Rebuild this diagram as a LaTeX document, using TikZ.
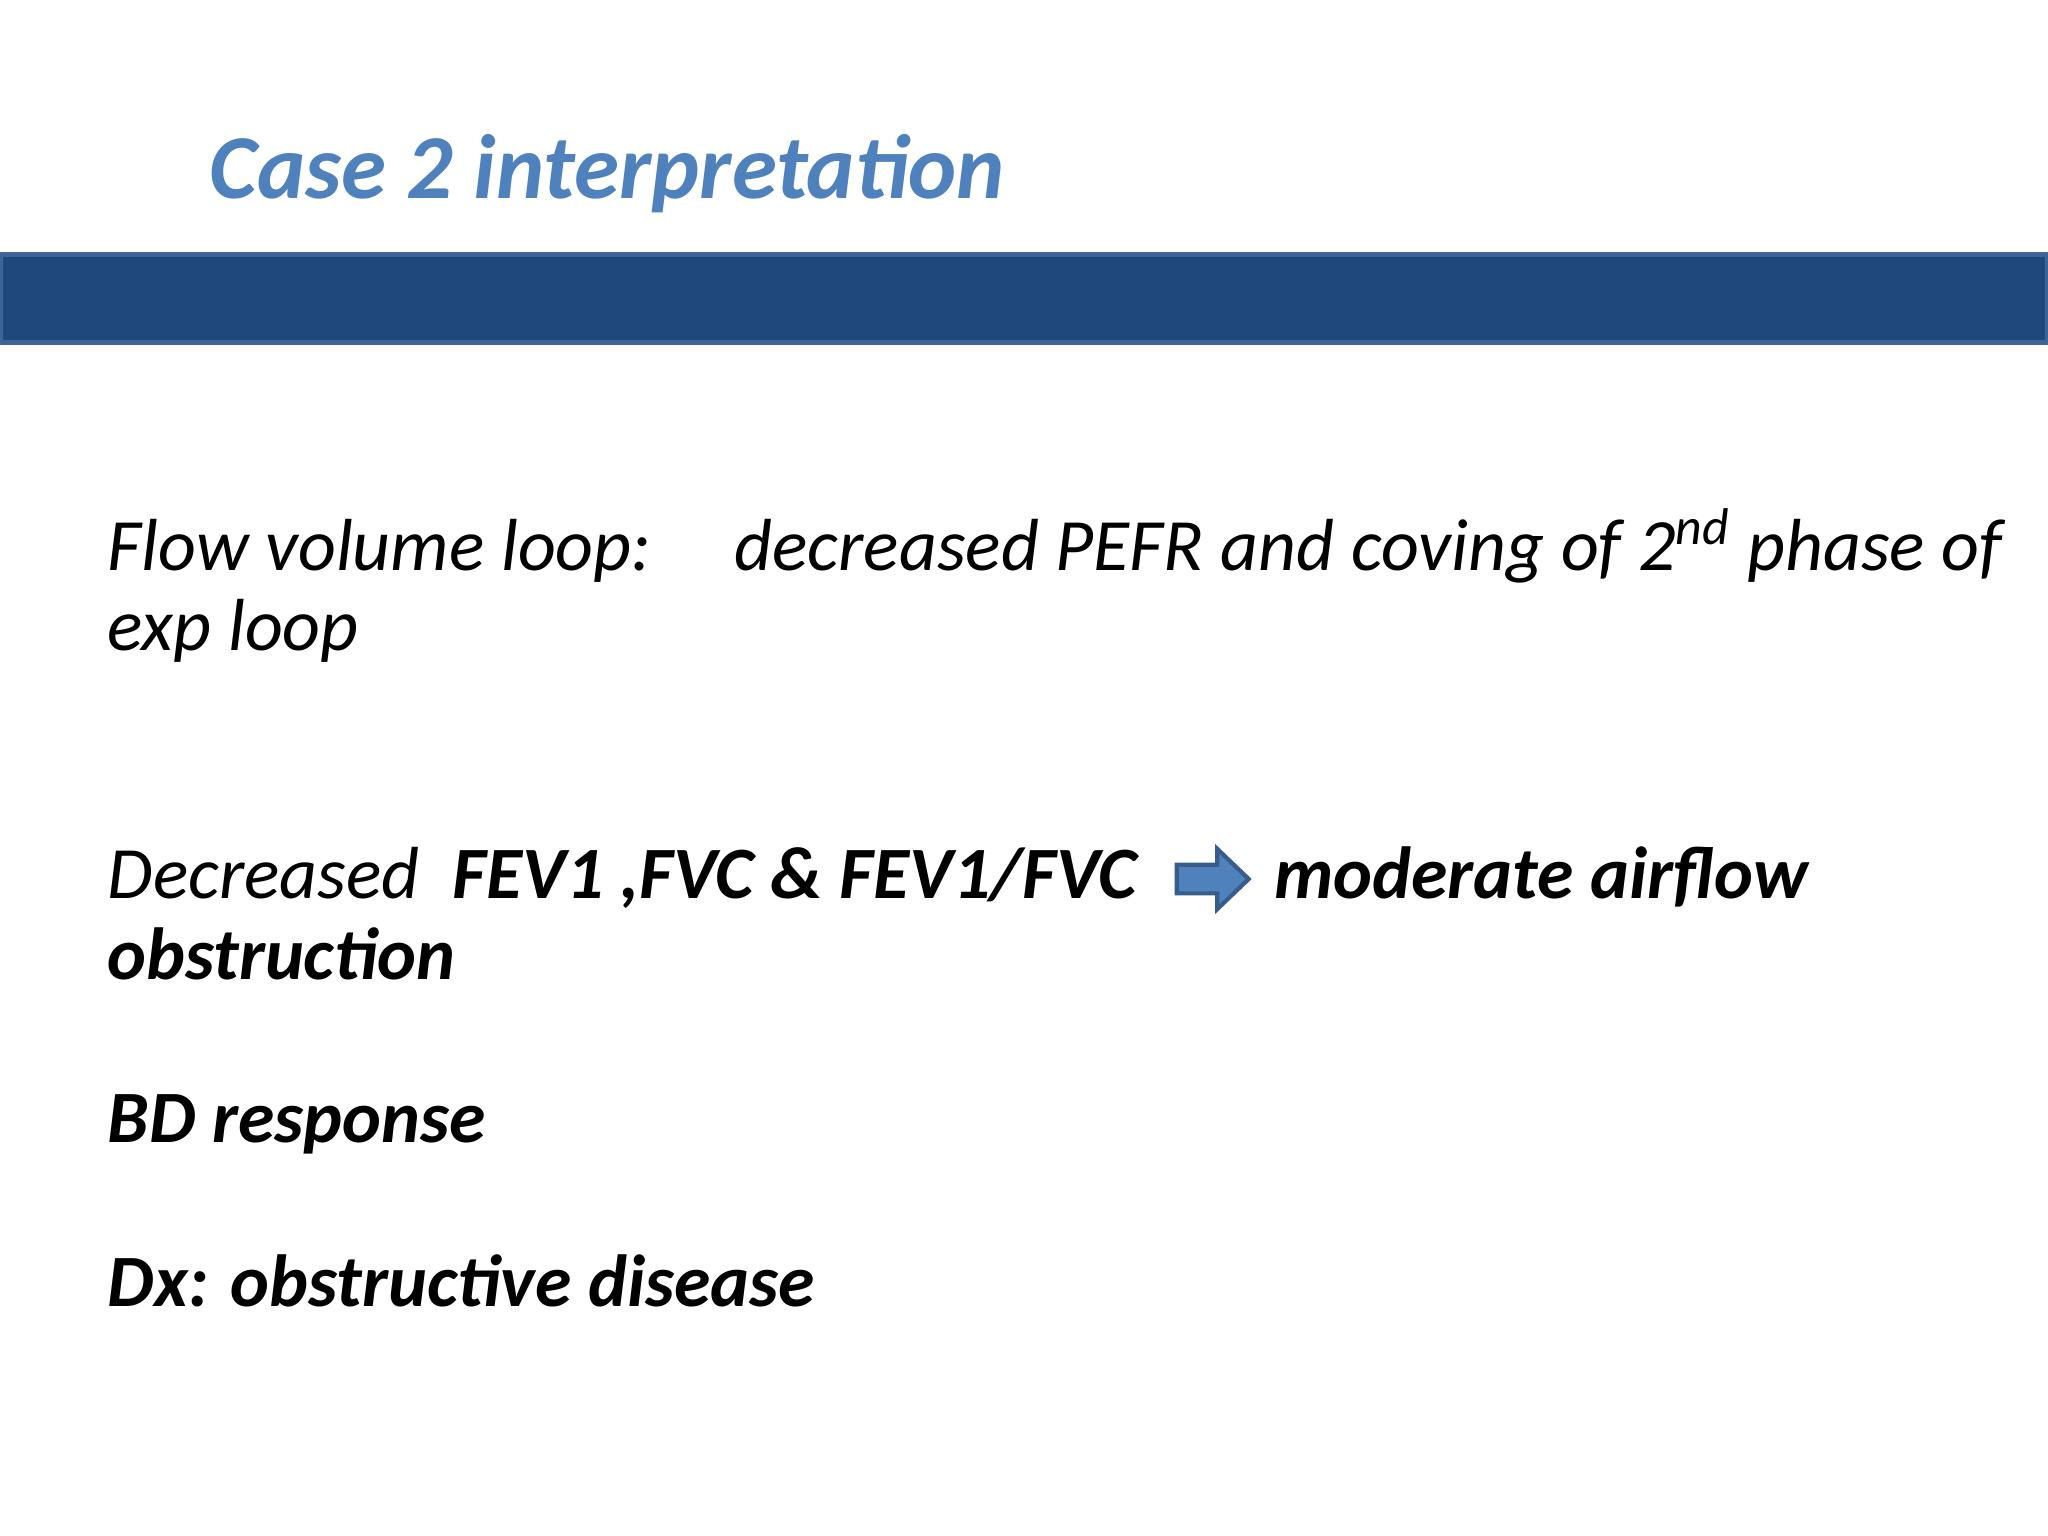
\documentclass[tikz,border=0pt]{standalone}
\usepackage{fontspec}
\setmainfont{Carlito}
\definecolor{titleblue}{RGB}{79,129,189}
\definecolor{barblue}{RGB}{31,73,125}
\definecolor{baredge}{RGB}{60,100,150}
\definecolor{arrowedge}{RGB}{56,93,138}
\tikzset{body/.style={anchor=base west,inner sep=0pt,font=\fontsize{21}{25}\selectfont\itshape}}
\begin{document}
\begin{tikzpicture}[x=0.01306cm,y=-0.01306cm]
\useasboundingbox (0,0) rectangle (1568,1176);
\fill[white] (0,0) rectangle (1568,1176);
\node[anchor=base west,inner sep=0pt,text=titleblue,font=\fontsize{26}{30}\selectfont\bfseries\itshape] (title) at (160,152) {Case 2 interpretation};
\draw[baredge,line width=1.5pt,fill=barblue] (0,195) rectangle (1568,262);
\node[body] (l1a) at (82,437) {Flow volume loop:};
\node[body] (l1b) at (562,437) {decreased PEFR and coving of 2\textsuperscript{nd} phase of};
\node[body] (l2) at (82,498) {exp loop};
\node[body] (l3a) at (82,688) {Decreased \ \textbf{FEV1 ,FVC \& FEV1/FVC}};
\node[body] (l3b) at (975,688) {\textbf{moderate airflow}};
\node[body] (l4) at (82,750) {\textbf{obstruction}};
\node[body] (l5) at (82,875) {\textbf{BD response}};
\node[body] (l6) at (82,1000) {\textbf{Dx: obstructive disease}};
\draw[arrowedge,line width=1.2pt,fill=titleblue,line join=miter]
  (901,662) -- (932,662) -- (932,650) -- (956,673) -- (932,696) -- (932,684) -- (901,684) -- cycle;
\end{tikzpicture}
\end{document}
